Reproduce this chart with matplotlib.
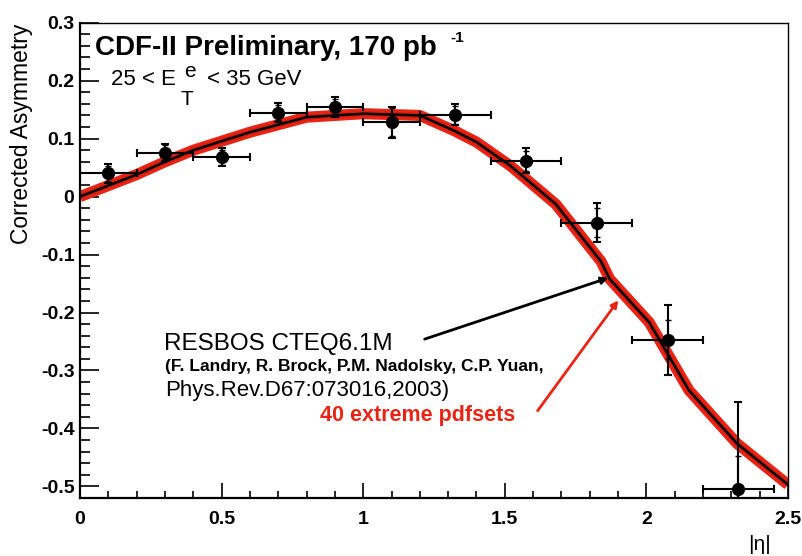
import matplotlib
matplotlib.use('Agg')
import matplotlib.pyplot as plt
from matplotlib.ticker import MultipleLocator, FixedLocator
import numpy as np

plt.rcParams['font.family'] = ['Liberation Sans', 'DejaVu Sans']

# measured asymmetry, bins in |eta|
eta = [0.1, 0.3, 0.5, 0.7, 0.9, 1.1, 1.325, 1.575, 1.825, 2.075, 2.325]
eta_lo = [0.0, 0.2, 0.4, 0.6, 0.8, 1.0, 1.2, 1.45, 1.7, 1.95, 2.2]
eta_hi = [0.2, 0.4, 0.6, 0.8, 1.0, 1.2, 1.45, 1.7, 1.95, 2.2, 2.45]
asym = [0.040, 0.076, 0.068, 0.145, 0.155, 0.128, 0.141, 0.062, -0.045, -0.247, -0.505]
err_tot = [0.016, 0.015, 0.015, 0.016, 0.017, 0.027, 0.018, 0.021, 0.034, 0.060, 0.150]
err_stat = [0.013, 0.013, 0.013, 0.013, 0.014, 0.024, 0.015, 0.017, 0.025, 0.034, 0.058]

# RESBOS prediction
curve_x = [0.0, 0.2, 0.3, 0.4, 0.6, 0.8, 1.0, 1.2, 1.32, 1.4, 1.52, 1.68, 1.84, 1.87, 2.01, 2.15, 2.32, 2.5]
curve_y = [0.0, 0.038, 0.060, 0.080, 0.111, 0.137, 0.143, 0.140, 0.114, 0.094, 0.053, -0.013, -0.112, -0.142, -0.217, -0.334, -0.426, -0.497]

W, H = 803, 556
fig = plt.figure(figsize=(W / 100, H / 100), dpi=100)
ax = fig.add_axes([80 / W, 1 - 498 / H, (788 - 80) / W, (498 - 22.7) / H])

# band of pdf sets + central curve
ax.plot(curve_x, curve_y, color='#e82515', lw=8, solid_capstyle='butt', zorder=2)
ax.plot(curve_x, curve_y, color='#b01008', lw=4.0, alpha=0.35, zorder=2)
ax.plot(curve_x, curve_y, color='black', lw=1.8, zorder=3)

xerr = [np.array(eta) - np.array(eta_lo), np.array(eta_hi) - np.array(eta)]
ax.errorbar(eta, asym, xerr=xerr, yerr=err_tot, fmt='o', color='black', ms=8.5,
            elinewidth=1.5, capsize=3, capthick=1.5, zorder=5)
ax.errorbar(eta, asym, yerr=err_stat, fmt='none', ecolor='black',
            elinewidth=1.5, capsize=2, capthick=1.0, zorder=5)

ax.set_xlim(0, 2.5)
ax.set_ylim(-0.52, 0.3)
ax.xaxis.set_major_locator(FixedLocator([0, 0.5, 1, 1.5, 2, 2.5]))
ax.xaxis.set_minor_locator(MultipleLocator(0.1))
ax.yaxis.set_major_locator(MultipleLocator(0.1))
ax.yaxis.set_minor_locator(MultipleLocator(0.02))
ax.tick_params(which='both', direction='in', top=False, right=False, width=1.2)
ax.tick_params(axis='y', which='major', length=14, pad=4)
ax.tick_params(axis='y', which='minor', length=7)
ax.tick_params(axis='x', which='major', length=11, pad=9)
ax.tick_params(axis='x', which='minor', length=5)
ax.set_xticklabels(['0', '0.5', '1', '1.5', '2', '2.5'], fontsize=14, fontweight='bold')
ax.set_yticks([0.3, 0.2, 0.1, 0, -0.1, -0.2, -0.3, -0.4, -0.5])
ax.set_yticklabels(['0.3', '0.2', '0.1', '0', '-0.1', '-0.2', '-0.3', '-0.4', '-0.5'],
                   fontsize=14, fontweight='bold')
for s in ['left', 'bottom']:
    ax.spines[s].set_linewidth(1.6)
for s in ['top', 'right']:
    ax.spines[s].set_linewidth(1.0)

def px(x, y):
    return x / W, 1 - y / H

fig.text(*px(22, 134), 'Corrected Asymmetry', rotation=90, ha='center', va='center',
         fontsize=16.5)
fig.text(*px(760, 545), '|η|', ha='center', va='center', fontsize=15)

fig.text(*px(95, 55), 'CDF-II Preliminary, 170 pb', fontsize=20, fontweight='bold',
         va='baseline')
fig.text(*px(450, 42), '-1', fontsize=11, fontweight='bold', va='baseline')
fig.text(*px(111, 85), '25 < E', fontsize=16, va='baseline')
fig.text(*px(184, 77), 'e', fontsize=15, va='baseline')
fig.text(*px(181, 105), 'T', fontsize=15, va='baseline')
fig.text(*px(207, 85), '< 35 GeV', fontsize=16, va='baseline')

# annotations
fig.text(*px(164, 350), 'RESBOS CTEQ6.1M', fontsize=17.5, va='baseline')
fig.text(*px(165, 371), '(F. Landry, R. Brock, P.M. Nadolsky, C.P. Yuan,', fontsize=12.5,
         fontweight='bold', va='baseline')
fig.text(*px(165, 396), 'Phys.Rev.D67:073016,2003)', fontsize=16, va='baseline')
fig.text(*px(320, 421), '40 extreme pdfsets', fontsize=15.5, fontweight='bold',
         color='#e82515', va='baseline')

ax.annotate('', xy=px(611, 277), xytext=px(422, 340), xycoords='figure fraction',
            textcoords='figure fraction',
            arrowprops=dict(arrowstyle='-|>', color='black', lw=2.0, mutation_scale=10))
ax.annotate('', xy=px(620, 298), xytext=px(536, 413), xycoords='figure fraction',
            textcoords='figure fraction',
            arrowprops=dict(arrowstyle='-|>', color='#e82515', lw=2.0, mutation_scale=10))

fig.savefig('out.png', dpi=100)
